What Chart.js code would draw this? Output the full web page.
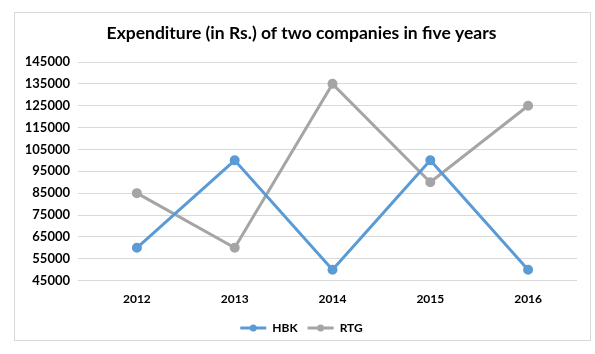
<!DOCTYPE html>
<html>
<head>
<meta charset="utf-8">
<script src="https://cdn.jsdelivr.net/npm/chart.js@4"></script>
<style>
    html, body { margin: 0; padding: 0; background: #fff; }
    #frame {
        position: absolute; left: 14px; top: 12px;
        width: 575px; height: 327px;
        border: 1px solid #d9d9d9;
    }
    #wrap { position: absolute; left: 0; top: 0; width: 595px; height: 354px; }
</style>
</head>
<body>
<div id="frame"></div>
<div id="wrap"><canvas id="expChart" width="595" height="354"></canvas></div>
<script>
// Expenditure (in Rs.) of two companies, 2012-2016
const YEARS = ['2012', '2013', '2014', '2015', '2016'];
const HBK = [60000, 100000, 50000, 100000, 50000];
const RTG = [85000, 60000, 135000, 90000, 125000];
const Y_MIN = 45000;
const Y_MAX = 145000;
const Y_STEP = 10000;

const FONT = 'Lato, "Liberation Sans", sans-serif';

// draws the round marker in the middle of each legend line, like Excel does
const legendMarkers = {
    id: 'legendMarkers',
    afterDraw(chart) {
        const legend = chart.legend;
        if (!legend || !legend.legendHitBoxes) return;
        const ctx = chart.ctx;
        const boxW = chart.options.plugins.legend.labels.pointStyleWidth;
        legend.legendHitBoxes.forEach((box, i) => {
            const ds = chart.data.datasets[i];
            ctx.save();
            ctx.fillStyle = ds.borderColor;
            ctx.beginPath();
            ctx.arc(box.left + boxW / 2, box.top + box.height / 2, 3.5, 0, Math.PI * 2);
            ctx.fill();
            ctx.restore();
        });
    }
};

const ctx = document.getElementById('expChart').getContext('2d');
new Chart(ctx, {
    type: 'line',
    data: {
        labels: YEARS,
        datasets: [
            {
                label: 'HBK',
                data: HBK,
                borderColor: '#5b9bd5',
                backgroundColor: '#5b9bd5',
                borderWidth: 3,
                pointRadius: 3.5,
                pointHoverRadius: 3.5,
                tension: 0
            },
            {
                label: 'RTG',
                data: RTG,
                borderColor: '#a5a5a5',
                backgroundColor: '#a5a5a5',
                borderWidth: 3,
                pointRadius: 3.5,
                pointHoverRadius: 3.5,
                tension: 0
            }
        ]
    },
    options: {
        responsive: false,
        animation: false,
        layout: { padding: { top: 14, right: 18, bottom: 10, left: 26 } },
        plugins: {
            title: {
                display: true,
                text: 'Expenditure (in Rs.) of two companies in five years',
                color: '#000',
                font: { family: FONT, size: 17.5, weight: 'bold' },
                padding: { top: 9, bottom: 18 }
            },
            legend: {
                position: 'bottom',
                labels: {
                    usePointStyle: true,
                    pointStyle: 'line',
                    pointStyleWidth: 26,
                    color: '#000',
                    font: { family: FONT, size: 12, weight: 'bold' },
                    padding: 10
                }
            },
            tooltip: { enabled: false }
        },
        scales: {
            x: {
                offset: true,
                grid: { display: false },
                border: { display: false },
                ticks: {
                    color: '#000',
                    font: { family: FONT, size: 12, weight: 'bold' },
                    padding: 3
                },
                afterFit(scale) { scale.height += 3; }
            },
            y: {
                min: Y_MIN,
                max: Y_MAX,
                grid: { color: '#d9d9d9', lineWidth: 1, tickLength: 10, tickColor: '#d9d9d9' },
                border: { display: false },
                ticks: {
                    stepSize: Y_STEP,
                    color: '#000',
                    font: { family: FONT, size: 13, weight: 'bold' },
                    padding: 8,
                    callback: v => String(v)
                },
                afterFit(scale) { scale.width = 62; }
            }
        }
    },
    plugins: [legendMarkers]
});
</script>
</body>
</html>
